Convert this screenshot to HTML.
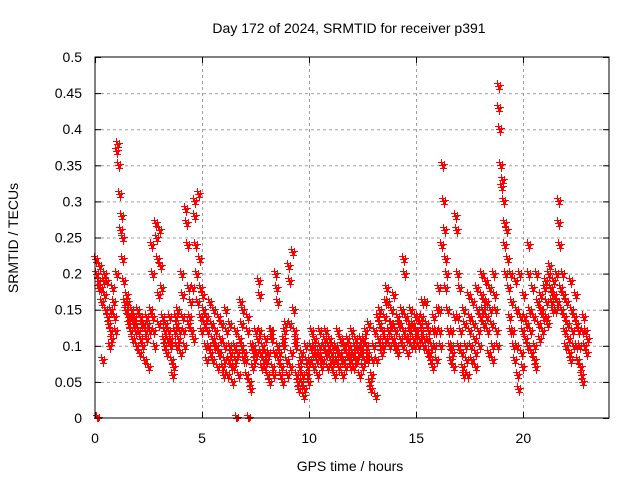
<!DOCTYPE html>
<html><head><meta charset="utf-8"><style>
html,body{margin:0;padding:0;background:#fff;}
svg{display:block;font-family:"Liberation Sans",sans-serif;}
</style></head><body>
<svg id="chart" width="640" height="480" viewBox="0 0 640 480" xmlns="http://www.w3.org/2000/svg">
<rect width="640" height="480" fill="#fff"/>
<text x="349" y="33" font-size="14" text-anchor="middle">Day 172 of 2024, SRMTID for receiver p391</text>
<text transform="translate(18,238) rotate(-90)" font-size="14" text-anchor="middle">SRMTID / TECUs</text>
<text x="350" y="471" font-size="14" text-anchor="middle">GPS time / hours</text>
<g id="grid"></g>
<g id="ticks"></g>
<g id="points"></g>
<rect x="95" y="57" width="514" height="361" fill="none" stroke="#000" stroke-width="1"/>
</svg>
<script>
const xTicks=[0,5,10,15,20];
const yTicks=[0,0.05,0.1,0.15,0.2,0.25,0.3,0.35,0.4,0.45,0.5];
const yTickLabels=["0","0.05","0.1","0.15","0.2","0.25","0.3","0.35","0.4","0.45","0.5"];
const binStart=0, binWidth=0.2;
const binValues=[
[.22,.2,0,.19,.18],[.21,.18,.16,.08,.19],[.2,.17,.15,.19,.14],[.13,.1,.12,.15,.11],[.18,.16,.14,.12,.2],
[.37,.38,.35,.31,.26],[.28,.25,.22,.19,.16],[.15,.17,.16,.14,.13],[.14,.12,.15,.11,.13],[.13,.14,.12,.1,.15],
[.12,.09,.14,.11,.13],[.1,.13,.08,.12,.14],[.11,.13,.07,.12,.15],[.24,.2,.14,.12,.1],[.27,.25,.22,.17,.13],
[.26,.21,.18,.14,.11],[.12,.1,.13,.09,.11],[.12,.14,.1,.11,.08],[.06,.07,.12,.14,.1],[.13,.15,.11,.12,.09],
[.2,.17,.14,.12,.1],[.29,.27,.24,.18,.13],[.14,.16,.12,.18,.11],[.3,.28,.24,.2,.16],[.31,.22,.18,.14,.12],
[.17,.15,.13,.1,.08],[.14,.12,.1,.16,.09],[.13,.11,.08,.15,.1],[.12,.1,.07,.14,.09],[.09,.11,.13,.07,.06],
[.1,.08,.15,.12,.06],[.08,.1,.13,.09,.07],[.05,.07,.1,.12,.08],[0,.09,.06,.11,.16],[.13,.1,.15,.08,.09],
[.08,.06,.12,.14,0],[.05,.04,.1,.07,.09],[.1,.08,.12,.09,.11],[.19,.17,.12,.09,.07],[.1,.08,.07,.11,.09],
[.08,.06,.09,.05,.12],[.12,.11,.07,.06,.09],[.2,.18,.16,.1,.08],[.09,.06,.07,.05,.11],[.1,.12,.13,.08,.06],
[.21,.19,.13,.07,.09],[.23,.15,.12,.1,.11],[.06,.05,.04,.07,.08],[.05,.09,.06,.03,.04],[.1,.08,.07,.06,.05],
[.08,.1,.12,.09,.07],[.1,.11,.09,.08,.06],[.09,.12,.1,.08,.07],[.08,.1,.11,.09,.12],[.09,.07,.1,.11,.08],
[.07,.09,.1,.08,.06],[.1,.08,.09,.12,.07],[.09,.11,.08,.06,.1],[.08,.1,.07,.09,.11],[.1,.09,.08,.07,.12],
[.09,.07,.1,.08,.11],[.08,.1,.09,.06,.11],[.1,.09,.07,.11,.08],[.12,.1,.08,.09,.13],[.05,.04,.06,.08,.1],
[.1,.12,.03,.08,.14],[.11,.13,.15,.1,.09],[.12,.1,.14,.16,.11],[.18,.16,.12,.1,.13],[.15,.13,.11,.17,.1],
[.12,.1,.14,.09,.13],[.13,.11,.15,.1,.12],[.22,.2,.14,.11,.09],[.11,.13,.12,.15,.1],[.13,.11,.1,.14,.12],
[.12,.14,.1,.11,.13],[.14,.12,.16,.1,.11],[.16,.13,.11,.09,.12],[.09,.08,.1,.07,.12],[.14,.1,.12,.08,.15],
[.18,.15,.12,.1,.24],[.35,.3,.26,.22,.18],[.2,.15,.12,.1,.08],[.1,.12,.09,.07,.14],[.28,.26,.2,.14,.1],
[.18,.12,.09,.07,.06],[.15,.13,.1,.08,.06],[.17,.14,.12,.1,.08],[.16,.13,.11,.09,.07],[.18,.15,.12,.1,.14],
[.2,.17,.15,.13,.16],[.19,.16,.14,.12,.09],[.18,.15,.13,.1,.08],[.2,.17,.15,.12,.1],[.46,.43,.4,.35,.32],
[.33,.3,.27,.24,.2],[.26,.22,.18,.14,.12],[.2,.16,.12,.1,.08],[.19,.15,.1,.06,.04],[.2,.14,.09,.07,.12],
[.17,.14,.11,.13,.1],[.24,.2,.15,.12,.09],[.18,.14,.1,.08,.07],[.2,.16,.13,.11,.15],[.17,.15,.12,.14,.18],
[.19,.16,.14,.13,.2],[.21,.18,.16,.15,.17],[.19,.17,.15,.2,.16],[.3,.27,.24,.18,.15],[.2,.17,.14,.12,.1],
[.16,.13,.11,.09,.08],[.19,.15,.12,.1,.14],[.17,.13,.1,.08,.12],[.1,.07,.06,.05,.12],[.14,.1,.12,.09,.11]
];
const NS="http://www.w3.org/2000/svg";
const X0=95,X1=609,Y0=418,Y1=57,XMAX=24,YMAX=0.5;
function xs(t){return X0+(X1-X0)*t/XMAX;}
function ys(v){return Y0-(Y0-Y1)*v/YMAX;}
function mk(tag,attrs,parent){const e=document.createElementNS(NS,tag);for(const k in attrs)e.setAttribute(k,attrs[k]);parent.appendChild(e);return e;}
const grid=document.getElementById('grid'),ticks=document.getElementById('ticks'),pts=document.getElementById('points');
yTicks.forEach((v,i)=>{
  const y=ys(v)+0.5;
  if(i>0&&i<yTicks.length-1){const g=mk('line',{x1:X0,x2:X1,y1:y,y2:y,stroke:'#a0a0a0','stroke-dasharray':'3,3'},grid);
  
  }
  const t=mk('line',{x1:X0,x2:X0+6,y1:y,y2:y,stroke:'#000'},ticks);
  
  
  const t2=mk('line',{x1:X1-6,x2:X1,y1:y,y2:y,stroke:'#000'},ticks);
  
  
  const l=mk('text',{x:82,y:ys(v)+5,'font-size':14,'text-anchor':'end'},ticks);
  l.textContent=yTickLabels[i];
  
  
});
xTicks.forEach(t=>{
  const x=Math.round(xs(t))+0.5;
  if(t>0){const g=mk('line',{x1:x,x2:x,y1:Y1,y2:Y0,stroke:'#a0a0a0','stroke-dasharray':'3,3'},grid);
  
  }
  const k=mk('line',{x1:x,x2:x,y1:Y0,y2:Y0-6,stroke:'#000'},ticks);
  
  
  const k2=mk('line',{x1:x,x2:x,y1:Y1,y2:Y1+6,stroke:'#000'},ticks);
  
  
  const l=mk('text',{x:xs(t),y:443,'font-size':14,'text-anchor':'middle'},ticks);
  l.textContent=String(t);
  
  
});
// each sample drawn as a small overlapping cluster of '+' marks, like the dense reference
const cluster=[[0,0],[1,3],[-1,-3],[2,-1]];
binValues.forEach((vals,i)=>{
  vals.forEach((v,j)=>{
    const t=binStart+i*binWidth+j*binWidth/vals.length;
    const x0=Math.round(xs(t)),y0=Math.round(ys(v));
    let d='';
    cluster.forEach(o=>{
      const x=x0+o[0]+0.5,y=Math.min(Y0,y0+o[1])+0.5;
      d+=`M${x-3.5},${y}h7M${x},${y-3.5}v7`;
    });
    const p=mk('path',{d:d,stroke:'#ff0000','stroke-width':1,fill:'none'},pts);
    
    
  });
});
</script>
</body></html>
